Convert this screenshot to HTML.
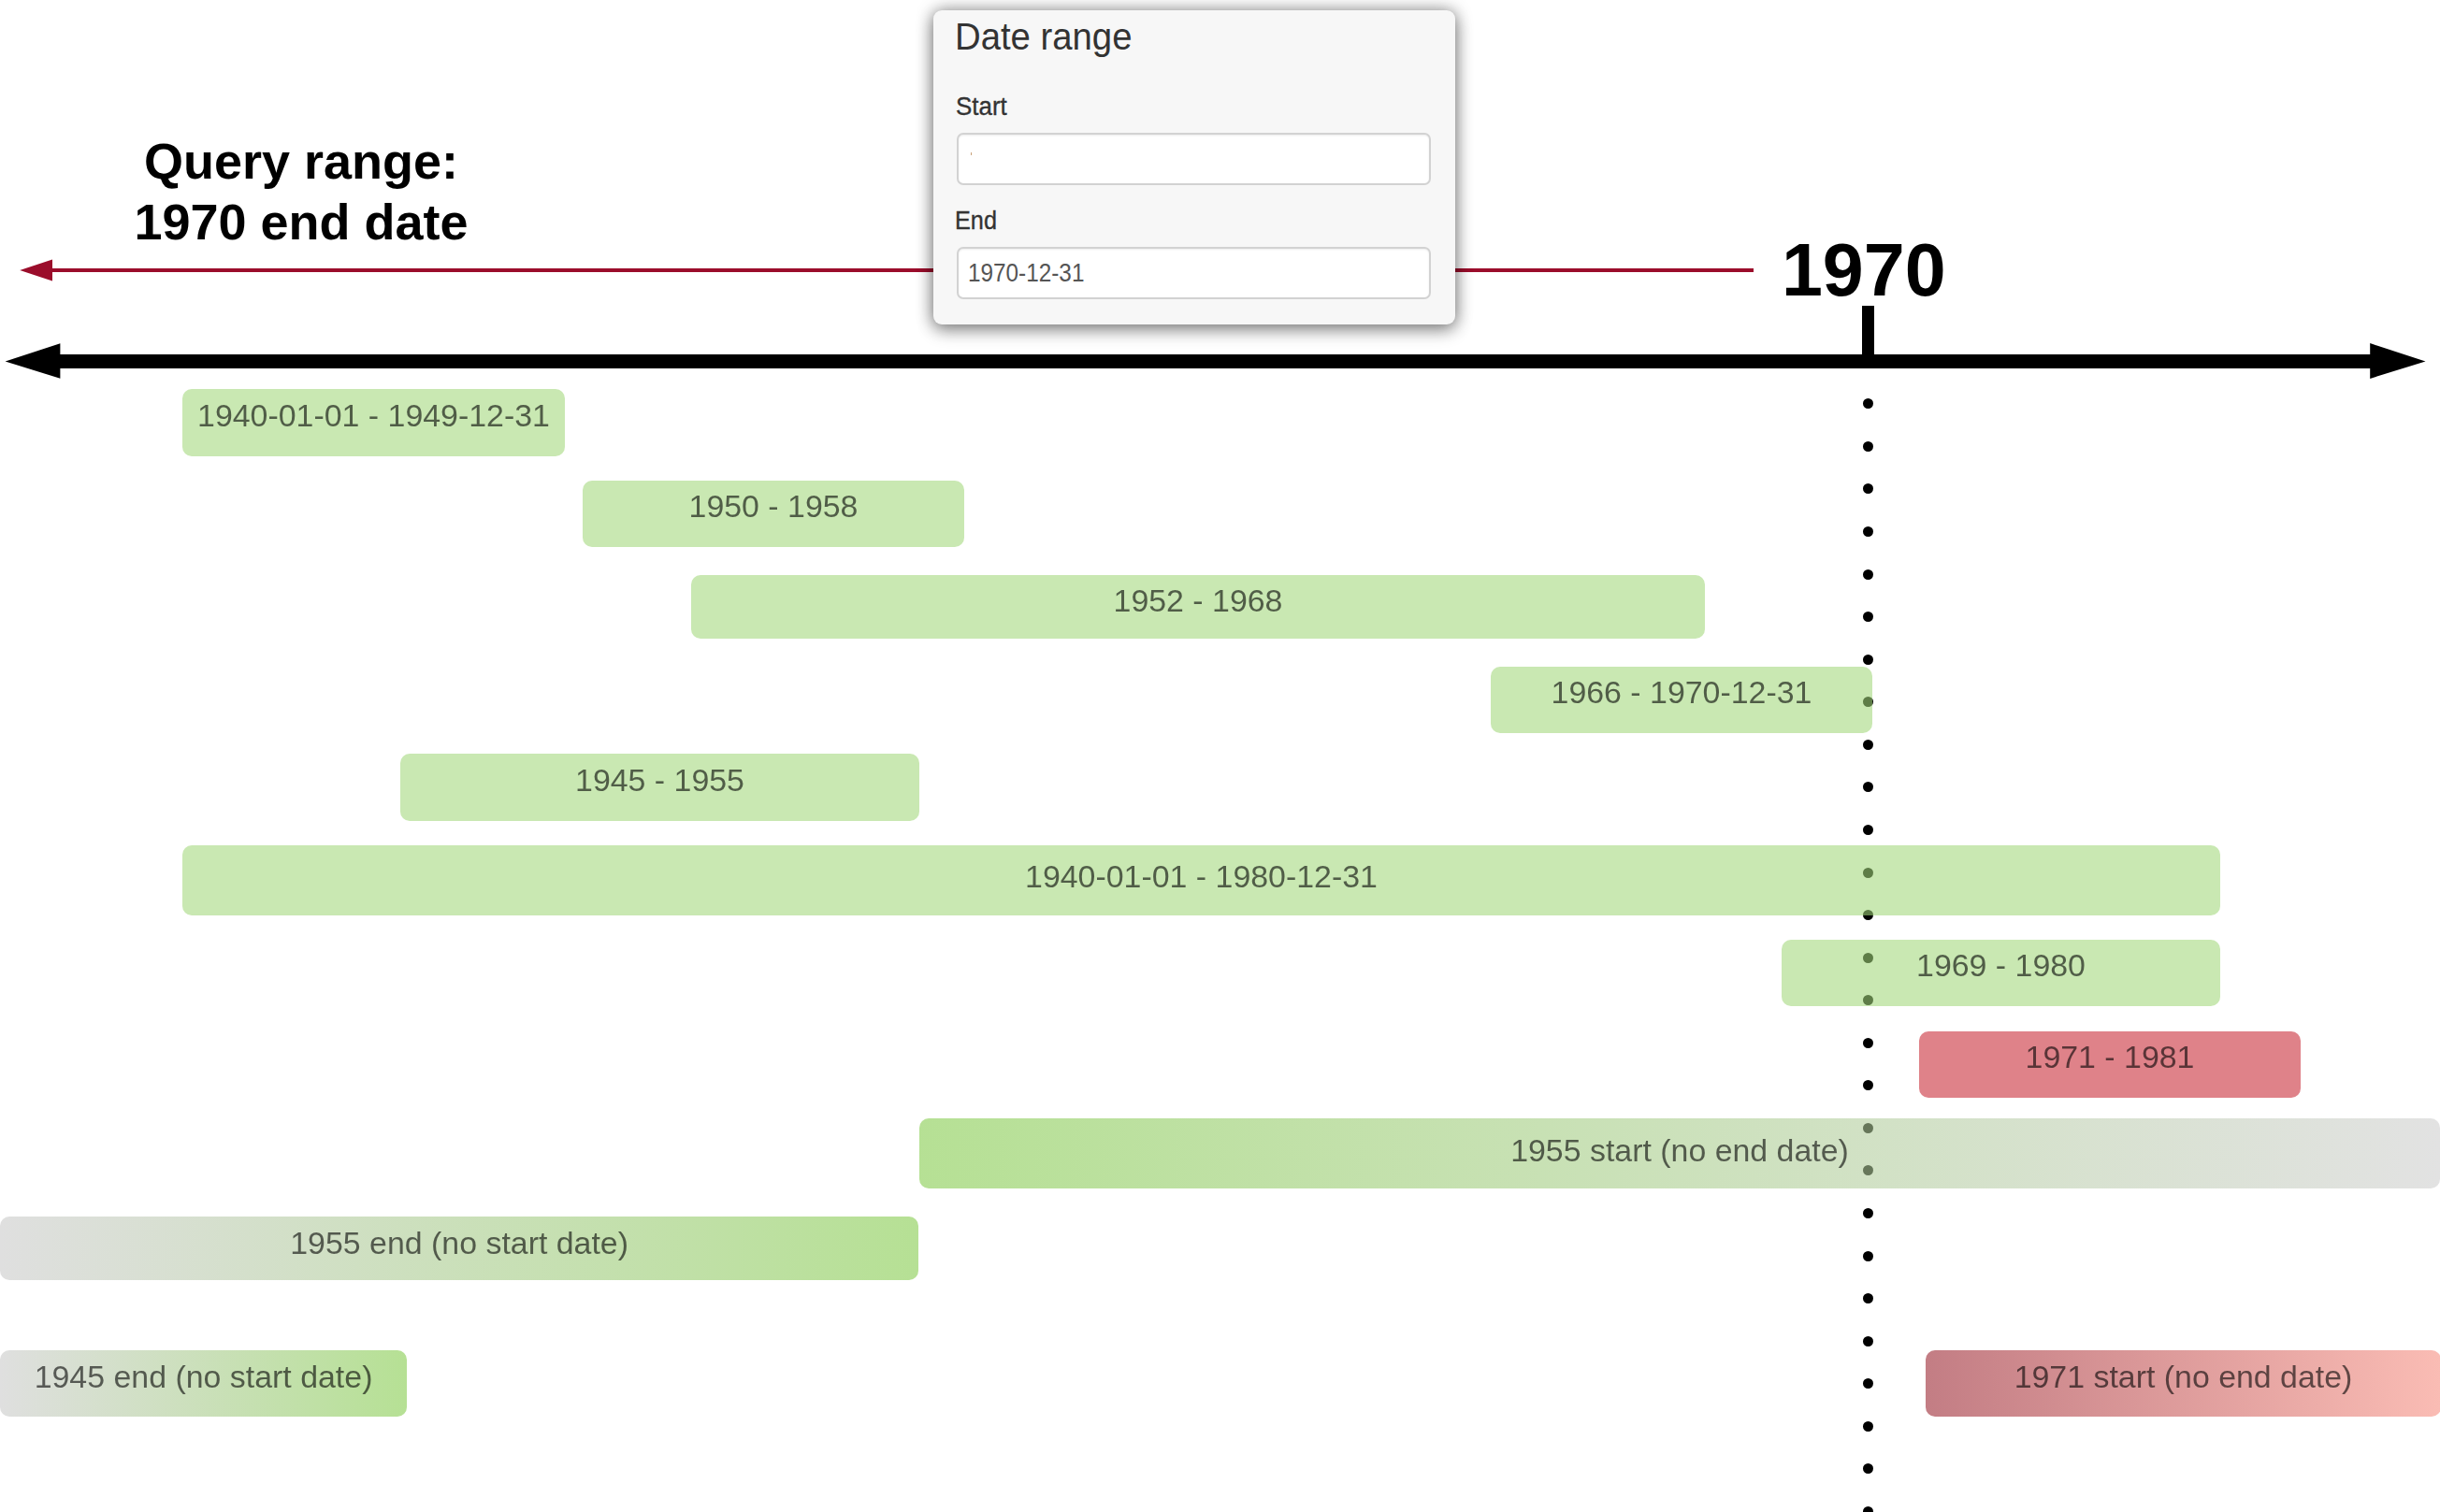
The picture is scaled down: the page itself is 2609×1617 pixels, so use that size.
<!DOCTYPE html>
<html><head><meta charset="utf-8">
<style>
html,body{margin:0;padding:0;background:#fff;}
body{width:2609px;height:1617px;position:relative;overflow:hidden;font-family:"Liberation Sans",sans-serif;}
.a{position:absolute;}
.t{position:absolute;white-space:pre;will-change:transform;font-size:33.9px;line-height:39px;color:rgba(0,0,0,0.6);}
.bar{position:absolute;border-radius:10px;}
.g{background:rgba(162,215,122,0.58);}
.r{background:rgba(200,40,52,0.58);}
.dot{position:absolute;width:11px;height:11px;border-radius:50%;background:#000;left:1992px;}
#pop{position:absolute;left:998px;top:11px;width:558px;height:336px;background:#f7f7f7;border-radius:9px;box-shadow:0 0 18px rgba(0,0,0,0.42),0 7px 18px rgba(0,0,0,0.3);}
.pt{white-space:pre;line-height:normal;transform-origin:0 0;}
.lb{font-size:27px;color:#333;-webkit-text-stroke:0.35px #333;}
.inp{position:absolute;box-sizing:border-box;width:507px;height:56px;background:#fff;border:2px solid #d2d2d2;border-radius:7px;box-shadow:inset 0 1px 2px rgba(0,0,0,0.08);}
</style></head><body>

<!-- red query arrow -->
<div class="a" style="left:55px;top:287px;width:1820px;height:4px;background:#9b0d2b;"></div>
<svg class="a" style="left:0;top:0" width="80" height="320"><polygon points="21.2,289 56,277.5 56,300.5" fill="#9b0d2b"/></svg>

<!-- popup -->
<div id="pop"></div>
<div class="a pt" style="left:1021.3px;top:16.3px;font-size:40.7px;color:#333;transform:scaleX(0.941);">Date range</div>
<div class="a pt lb" style="left:1021.5px;top:99.2px;transform:scaleX(0.96);">Start</div>
<div class="inp" style="left:1023px;top:142px;"></div>
<div class="a" style="left:1037.5px;top:163px;width:1px;height:3px;background:#c9a27a;"></div>
<div class="a pt lb" style="left:1021.1px;top:221.3px;transform:scaleX(0.936);">End</div>
<div class="inp" style="left:1023px;top:264px;"></div>
<div class="a pt" style="left:1035.3px;top:276.4px;font-size:27.4px;color:#555;transform:scaleX(0.888);">1970-12-31</div>

<!-- Query range label -->
<div class="a" style="left:122px;top:140px;width:400px;text-align:center;font-weight:bold;font-size:54px;line-height:65px;color:#000;">Query range:<br>1970 end date</div>

<!-- axis -->
<div class="a" style="left:60px;top:379px;width:2490px;height:15px;background:#000;"></div>
<svg class="a" style="left:0;top:0" width="2609" height="420">
  <polygon points="5.6,386.5 64.4,367.2 64.4,404.8" fill="#000"/>
  <polygon points="2593.5,386.5 2534.2,367.1 2534.2,404.9" fill="#000"/>
</svg>
<div class="a" style="left:1991px;top:327px;width:13px;height:60px;background:#000;"></div>
<div class="a pt" style="left:1904.9px;top:242.9px;font-weight:bold;font-size:79px;color:#000;">1970</div>

<!-- dots -->
<div class="dot" style="top:426.3px"></div>
<div class="dot" style="top:471.9px"></div>
<div class="dot" style="top:517.4px"></div>
<div class="dot" style="top:563.0px"></div>
<div class="dot" style="top:608.5px"></div>
<div class="dot" style="top:654.1px"></div>
<div class="dot" style="top:699.7px"></div>
<div class="dot" style="top:745.2px"></div>
<div class="dot" style="top:790.8px"></div>
<div class="dot" style="top:836.3px"></div>
<div class="dot" style="top:881.9px"></div>
<div class="dot" style="top:927.5px"></div>
<div class="dot" style="top:973.0px"></div>
<div class="dot" style="top:1018.6px"></div>
<div class="dot" style="top:1064.1px"></div>
<div class="dot" style="top:1109.7px"></div>
<div class="dot" style="top:1155.3px"></div>
<div class="dot" style="top:1200.8px"></div>
<div class="dot" style="top:1246.4px"></div>
<div class="dot" style="top:1291.9px"></div>
<div class="dot" style="top:1337.5px"></div>
<div class="dot" style="top:1383.1px"></div>
<div class="dot" style="top:1428.6px"></div>
<div class="dot" style="top:1474.2px"></div>
<div class="dot" style="top:1519.7px"></div>
<div class="dot" style="top:1565.3px"></div>
<div class="dot" style="top:1610.9px"></div>


<!-- bars -->
<div class="bar g" style="left:195px;top:416px;width:409px;height:72px;"></div>
<div class="bar g" style="left:623px;top:514px;width:408px;height:71px;"></div>
<div class="bar g" style="left:739px;top:615px;width:1084px;height:68px;"></div>
<div class="bar g" style="left:1594px;top:713px;width:408px;height:71px;"></div>
<div class="bar g" style="left:428px;top:806px;width:555px;height:72px;"></div>
<div class="bar g" style="left:195px;top:904px;width:2179px;height:75px;"></div>
<div class="bar g" style="left:1905px;top:1005px;width:469px;height:71px;"></div>
<div class="bar r" style="left:2052px;top:1103px;width:408px;height:71px;"></div>
<div class="bar" style="left:983px;top:1196px;width:1626px;height:75px;background:linear-gradient(to right,rgba(129,202,71,0.58),rgba(205,205,205,0.58));"></div>
<div class="bar" style="left:-0.3px;top:1301px;width:982.3px;height:68px;background:linear-gradient(to right,rgba(200,200,200,0.58),rgba(129,202,71,0.58));"></div>
<div class="bar" style="left:-0.3px;top:1444px;width:435.1px;height:71px;background:linear-gradient(to right,rgba(200,200,200,0.58),rgba(129,202,71,0.58));"></div>
<div class="bar" style="left:2059px;top:1444px;width:551px;height:71px;background:linear-gradient(to right,#c37d84,#fabcb4);"></div>

<!-- bar texts -->
<div class="t" style="left:195px;width:409px;text-align:center;top:425.2px;">1940-01-01 - 1949-12-31</div>
<div class="t" style="left:623px;width:408px;text-align:center;top:522.3px;">1950 - 1958</div>
<div class="t" style="left:739px;width:1084px;text-align:center;top:623.2px;">1952 - 1968</div>
<div class="t" style="left:1594px;width:408px;text-align:center;top:721.4px;">1966 - 1970-12-31</div>
<div class="t" style="left:428px;width:555px;text-align:center;top:814.9px;">1945 - 1955</div>
<div class="t" style="left:195px;width:2179px;text-align:center;top:918.2px;">1940-01-01 - 1980-12-31</div>
<div class="t" style="left:1905px;width:469px;text-align:center;top:1013.4px;">1969 - 1980</div>
<div class="t" style="left:2052px;width:408px;text-align:center;top:1111px;">1971 - 1981</div>
<div class="t" style="left:983px;width:1626px;text-align:center;top:1211px;">1955 start (no end date)</div>
<div class="t" style="left:-0.3px;width:982.3px;text-align:center;top:1310px;">1955 end (no start date)</div>
<div class="t" style="left:-0.3px;width:435.1px;text-align:center;top:1453px;">1945 end (no start date)</div>
<div class="t" style="left:2059px;width:551px;text-align:center;top:1453px;">1971 start (no end date)</div>

</body></html>
